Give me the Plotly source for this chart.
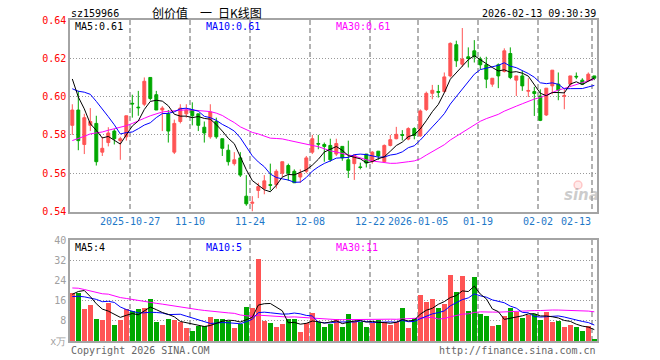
import pandas as pd
import numpy as np
import plotly.graph_objects as go

# ---------------- data ----------------
holidays = ["2026-01-01", "2026-01-02"]
dates = [d.strftime("%Y-%m-%d") for d in pd.bdate_range("2025-10-13", "2026-02-13")
         if d.strftime("%Y-%m-%d") not in holidays]

open_ = [0.585, 0.593, 0.575, 0.585, 0.586, 0.571, 0.576, 0.582, 0.577, 0.579,
         0.5965, 0.5945, 0.596, 0.610, 0.601, 0.593, 0.591, 0.571, 0.587, 0.591,
         0.593, 0.591, 0.584, 0.579, 0.587, 0.578, 0.572, 0.565, 0.568, 0.548,
         0.5443, 0.551, 0.552, 0.5540, 0.554, 0.560, 0.564, 0.561, 0.558, 0.561,
         0.571, 0.5755, 0.575, 0.5745, 0.570, 0.574, 0.567, 0.565, 0.5633, 0.570,
         0.5662, 0.5715, 0.566, 0.5745, 0.578, 0.5801, 0.5778, 0.5833, 0.5795, 0.5933,
         0.6017, 0.6026, 0.6026, 0.6108, 0.6271, 0.6169, 0.6208, 0.6239, 0.6196, 0.6166,
         0.6065, 0.6166, 0.6131, 0.6225, 0.6086, 0.6108, 0.6028, 0.6026, 0.6003, 0.5904,
         0.6056, 0.6065, 0.6002, 0.6065, 0.6106, 0.6086, 0.6082, 0.6108]
high = [0.596, 0.603, 0.591, 0.594, 0.590, 0.579, 0.584, 0.583, 0.579, 0.590,
        0.601, 0.603, 0.610, 0.610, 0.603, 0.595, 0.593, 0.588, 0.596, 0.596,
        0.597, 0.591, 0.587, 0.596, 0.589, 0.578, 0.575, 0.571, 0.571, 0.559,
        0.548, 0.555, 0.559, 0.565, 0.562, 0.566, 0.565, 0.562, 0.562, 0.569,
        0.580, 0.580, 0.576, 0.578, 0.578, 0.574, 0.577, 0.5695, 0.5655, 0.570,
        0.5715, 0.5715, 0.575, 0.580, 0.5842, 0.5825, 0.584, 0.584, 0.5933, 0.6026,
        0.6061, 0.6061, 0.6126, 0.6283, 0.6292, 0.6358, 0.6257, 0.6295, 0.6208, 0.6208,
        0.6096, 0.6173, 0.6252, 0.6257, 0.6108, 0.6135, 0.6096, 0.6051, 0.6038, 0.6044,
        0.6138, 0.6126, 0.6038, 0.6108, 0.6126, 0.6096, 0.6126, 0.6108]
low = [0.580, 0.572, 0.570, 0.582, 0.564, 0.569, 0.574, 0.575, 0.567, 0.577,
       0.589, 0.590, 0.595, 0.598, 0.593, 0.582, 0.576, 0.570, 0.586, 0.589,
       0.585, 0.582, 0.576, 0.578, 0.578, 0.569, 0.564, 0.564, 0.558, 0.543,
       0.540, 0.547, 0.549, 0.551, 0.552, 0.558, 0.556, 0.555, 0.555, 0.560,
       0.570, 0.5725, 0.566, 0.566, 0.569, 0.5665, 0.5575, 0.5565, 0.562, 0.563,
       0.565, 0.567, 0.5655, 0.574, 0.5777, 0.5771, 0.5772, 0.5777, 0.579, 0.5925,
       0.5986, 0.5995, 0.6021, 0.6100, 0.6155, 0.6155, 0.6152, 0.6178, 0.6143, 0.6044,
       0.6051, 0.6044, 0.6126, 0.6091, 0.6003, 0.6030, 0.5998, 0.5899, 0.5872, 0.5899,
       0.6012, 0.5981, 0.5934, 0.6056, 0.6091, 0.6065, 0.6082, 0.6086]
close = [0.593, 0.577, 0.589, 0.587, 0.566, 0.573, 0.581, 0.578, 0.578, 0.590,
         0.5962, 0.5942, 0.608, 0.599, 0.593, 0.594, 0.582, 0.586, 0.594, 0.593,
         0.590, 0.585, 0.581, 0.592, 0.579, 0.573, 0.566, 0.567, 0.559, 0.544,
         0.5448, 0.553, 0.556, 0.5537, 0.561, 0.566, 0.560, 0.555, 0.560, 0.568,
         0.578, 0.5752, 0.574, 0.567, 0.5755, 0.568, 0.5615, 0.5695, 0.5630, 0.5653,
         0.571, 0.569, 0.5745, 0.5775, 0.5803, 0.5798, 0.5833, 0.5797, 0.5925, 0.6017,
         0.6033, 0.6023, 0.6103, 0.6278, 0.6187, 0.6196, 0.6199, 0.6208, 0.6166, 0.6091,
         0.6096, 0.6108, 0.6239, 0.6100, 0.6108, 0.6056, 0.6032, 0.6016, 0.5876, 0.6044,
         0.6138, 0.6033, 0.6005, 0.6108, 0.6103, 0.6065, 0.6117, 0.6096]
volume = [18.9, 19.2, 12.7, 14.3, 8.7, 8.3, 15.2, 6.3, 8.3, 12.7,
          11.9, 12.7, 13.2, 16.7, 7.6, 6.3, 8.9, 8.4, 7.6, 5.2,
          3.9, 6.0, 6.0, 9.6, 8.9, 8.7, 8.0, 5.2, 6.7, 13.6,
          13.2, 32.4, 7.9, 7.2, 5.6, 6.7, 8.7, 8.7, 3.6, 7.3,
          11.2, 7.6, 5.6, 6.7, 8.9, 5.6, 10.5, 8.0, 7.6, 5.6,
          7.3, 8.3, 7.6, 6.3, 7.6, 12.9, 5.2, 9.2, 18.3, 15.3,
          16.7, 13.2, 14.5, 26.3, 19.3, 25.9, 11.9, 25.3, 10.5, 10.0,
          5.9, 6.5, 9.9, 12.9, 11.3, 9.2, 10.3, 10.5, 8.3, 11.3,
          7.6, 7.9, 5.6, 6.5, 5.6, 3.9, 5.9, 0.7]

# estimated (not visible) closes / volumes before the window, used only for the moving averages
prior_close = [0.548, 0.551, 0.549, 0.553, 0.556, 0.554, 0.557, 0.560, 0.558, 0.561,
               0.559, 0.562, 0.560, 0.563, 0.564, 0.572, 0.578, 0.583, 0.588, 0.594,
               0.590, 0.594, 0.598, 0.603, 0.610, 0.624, 0.620, 0.626, 0.583]
prior_volume = [22, 28, 31, 24, 27, 20, 26, 29, 23, 25, 27, 24, 25.2, 19, 16,
                21, 15, 18, 17, 16.8, 18, 15, 19, 14, 17.5, 13.7, 10.7, 26.3, 22.9]

tick_dates = ["2025-10-27", "2025-11-10", "2025-11-24", "2025-12-08", "2025-12-22",
              "2026-01-05", "2026-01-19", "2026-02-02", "2026-02-13"]
tick_labels = ["2025-10-27", "11-10", "11-24", "12-08", "12-22",
               "2026-01-05", "01-19", "02-02", "02-13"]
price_ticks = [0.54, 0.56, 0.58, 0.60, 0.62, 0.64]
vol_ticks = [0, 8, 16, 24, 32, 40]
vol_tick_text = ["x万", "8", "16", "24", "32", "40"]

ma_labels = ["MA5:0.61", "MA10:0.61", "MA30:0.61"]
vol_ma_labels = ["MA5:4", "MA10:5", "MA30:11"]

# ---------------- derived ----------------
n = len(dates)
idx = list(range(n))
cs = pd.Series(prior_close + close)
vs = pd.Series(prior_volume + volume)
np_ = len(prior_close)
ma = {k: cs.rolling(k).mean().iloc[np_:].tolist() for k in (5, 10, 30)}
vma = {k: vs.rolling(k).mean().iloc[np_:].tolist() for k in (5, 10, 30)}

RED = "#ff5454"
GREEN = "#00a800"
MA_COL = {5: "#000000", 10: "#0000ff", 30: "#ff00ff"}
bar_colors = [RED if c > o else GREEN for o, c in zip(open_, close)]

MONO = "DejaVu Sans Mono"
L, R, T, B = 70, 597, 20, 341
def px(xp):
    return (xp - L) / (R - L)
def py(yp):
    return (B - yp) / (B - T)

grid_pos = [dates.index(d) - 0.33 for d in tick_dates]

fig = go.Figure()
fig.add_trace(go.Candlestick(
    x=idx, open=open_, high=high, low=low, close=close,
    increasing=dict(line=dict(color=RED, width=1), fillcolor=RED),
    decreasing=dict(line=dict(color=GREEN, width=1), fillcolor=GREEN),
    whiskerwidth=0, xaxis="x", yaxis="y", hoverinfo="skip"))
for k in (30, 10, 5):
    fig.add_trace(go.Scatter(x=idx, y=ma[k], mode="lines",
                             line=dict(color=MA_COL[k], width=1),
                             xaxis="x", yaxis="y", hoverinfo="skip"))
fig.add_trace(go.Bar(x=idx, y=volume, marker=dict(color=bar_colors, line=dict(width=0)),
                     width=0.8, xaxis="x2", yaxis="y2", hoverinfo="skip"))
for k in (30, 10, 5):
    fig.add_trace(go.Scatter(x=idx, y=vma[k], mode="lines",
                             line=dict(color=MA_COL[k], width=1),
                             xaxis="x2", yaxis="y2", hoverinfo="skip"))

main_dom = [py(211.5), 1]
vol_dom = [0, py(240)]
xr = [-0.383, n - 1 + (R - (72.3 + 6 * (n - 1))) / 6]

BORDER = "#a4a4a4"
xcommon = dict(range=xr, showticklabels=False, ticks="", tickvals=grid_pos,
               showgrid=True, gridcolor="#b2b2b2", griddash="5px,3px", gridwidth=1.6,
               showline=True, linecolor=BORDER, linewidth=1.5, mirror=True,
               zeroline=False, fixedrange=True)
fig.update_layout(
    width=660, height=360,
    margin=dict(l=L, r=660 - R, t=T, b=360 - B),
    paper_bgcolor="white", plot_bgcolor="white", showlegend=False,
    bargap=0,
    xaxis=dict(xcommon, anchor="y", domain=[0, 1], rangeslider=dict(visible=False)),
    xaxis2=dict(xcommon, anchor="y2", domain=[0, 1]),
    yaxis=dict(domain=main_dom, range=[0.54, 0.64], tickvals=price_ticks,
               ticktext=[f"{v:.2f}" for v in price_ticks],
               tickfont=dict(family=MONO, size=10, color="#ff0000"),
               showgrid=True, gridcolor="#999999", griddash="1px,2px", gridwidth=1,
               showline=True, linecolor=BORDER, linewidth=1.5, mirror=True,
               zeroline=False, ticks="", fixedrange=True),
    yaxis2=dict(domain=vol_dom, range=[0, 40], tickvals=vol_ticks, ticktext=vol_tick_text,
                tickfont=dict(family=MONO, size=10, color="#a0a0a0"),
                showgrid=True, gridcolor="#999999", griddash="1px,2px", gridwidth=1,
                showline=True, linecolor=BORDER, linewidth=1.5, mirror=True,
                zeroline=False, ticks="", fixedrange=True),
)

ann = []
def text(x, y, s, color="#000000", anchor="left", size=10, family=MONO, xref="paper"):
    ann.append(dict(x=x, y=y, xref=xref, yref="paper", text=s, showarrow=False,
                    xanchor=anchor, yanchor="middle", borderpad=0,
                    font=dict(family=family, size=size, color=color)))

text(px(70), py(13.5), "sz159966")
text(px(207), py(12), "创价值\u3000一\u2002日K线图", anchor="center", size=12,
     family="Noto Sans CJK SC")
text(px(597), py(13.5), "2026-02-13 09:30:39", anchor="right")
for s, xp, k in zip(ma_labels, (74, 205, 335), (5, 10, 30)):
    text(px(xp), py(26.5), s, color=MA_COL[k])
for s, xp, k in zip(vol_ma_labels, (74, 205, 335), (5, 10, 30)):
    text(px(xp), py(247), s, color=MA_COL[k])
for i, (g, lab) in enumerate(zip(grid_pos, tick_labels)):
    text(g, py(221), lab, color="#1e78c8",
         anchor="right" if i == len(tick_labels) - 1 else "center", xref="x")
text(px(70), py(350.5), "Copyright 2026 SINA.COM", color="#666666")
text(px(597), py(350.5), "http://finance.sina.com.cn", color="#666666", anchor="right")
text(px(581), py(195), "<b><i>sina</i></b>", color="rgba(170,170,170,0.6)", anchor="center",
     size=15, family="DejaVu Sans")
fig.update_layout(annotations=ann)

# small watermark eye of the logo (a shape, not text)
fig.add_shape(type="circle", xref="paper", yref="paper",
              x0=px(574), x1=px(582), y0=py(189), y1=py(181),
              line=dict(color="rgba(255,120,120,0.35)", width=1.5),
              fillcolor="rgba(255,150,150,0.2)")

fig.write_html("out.html")
